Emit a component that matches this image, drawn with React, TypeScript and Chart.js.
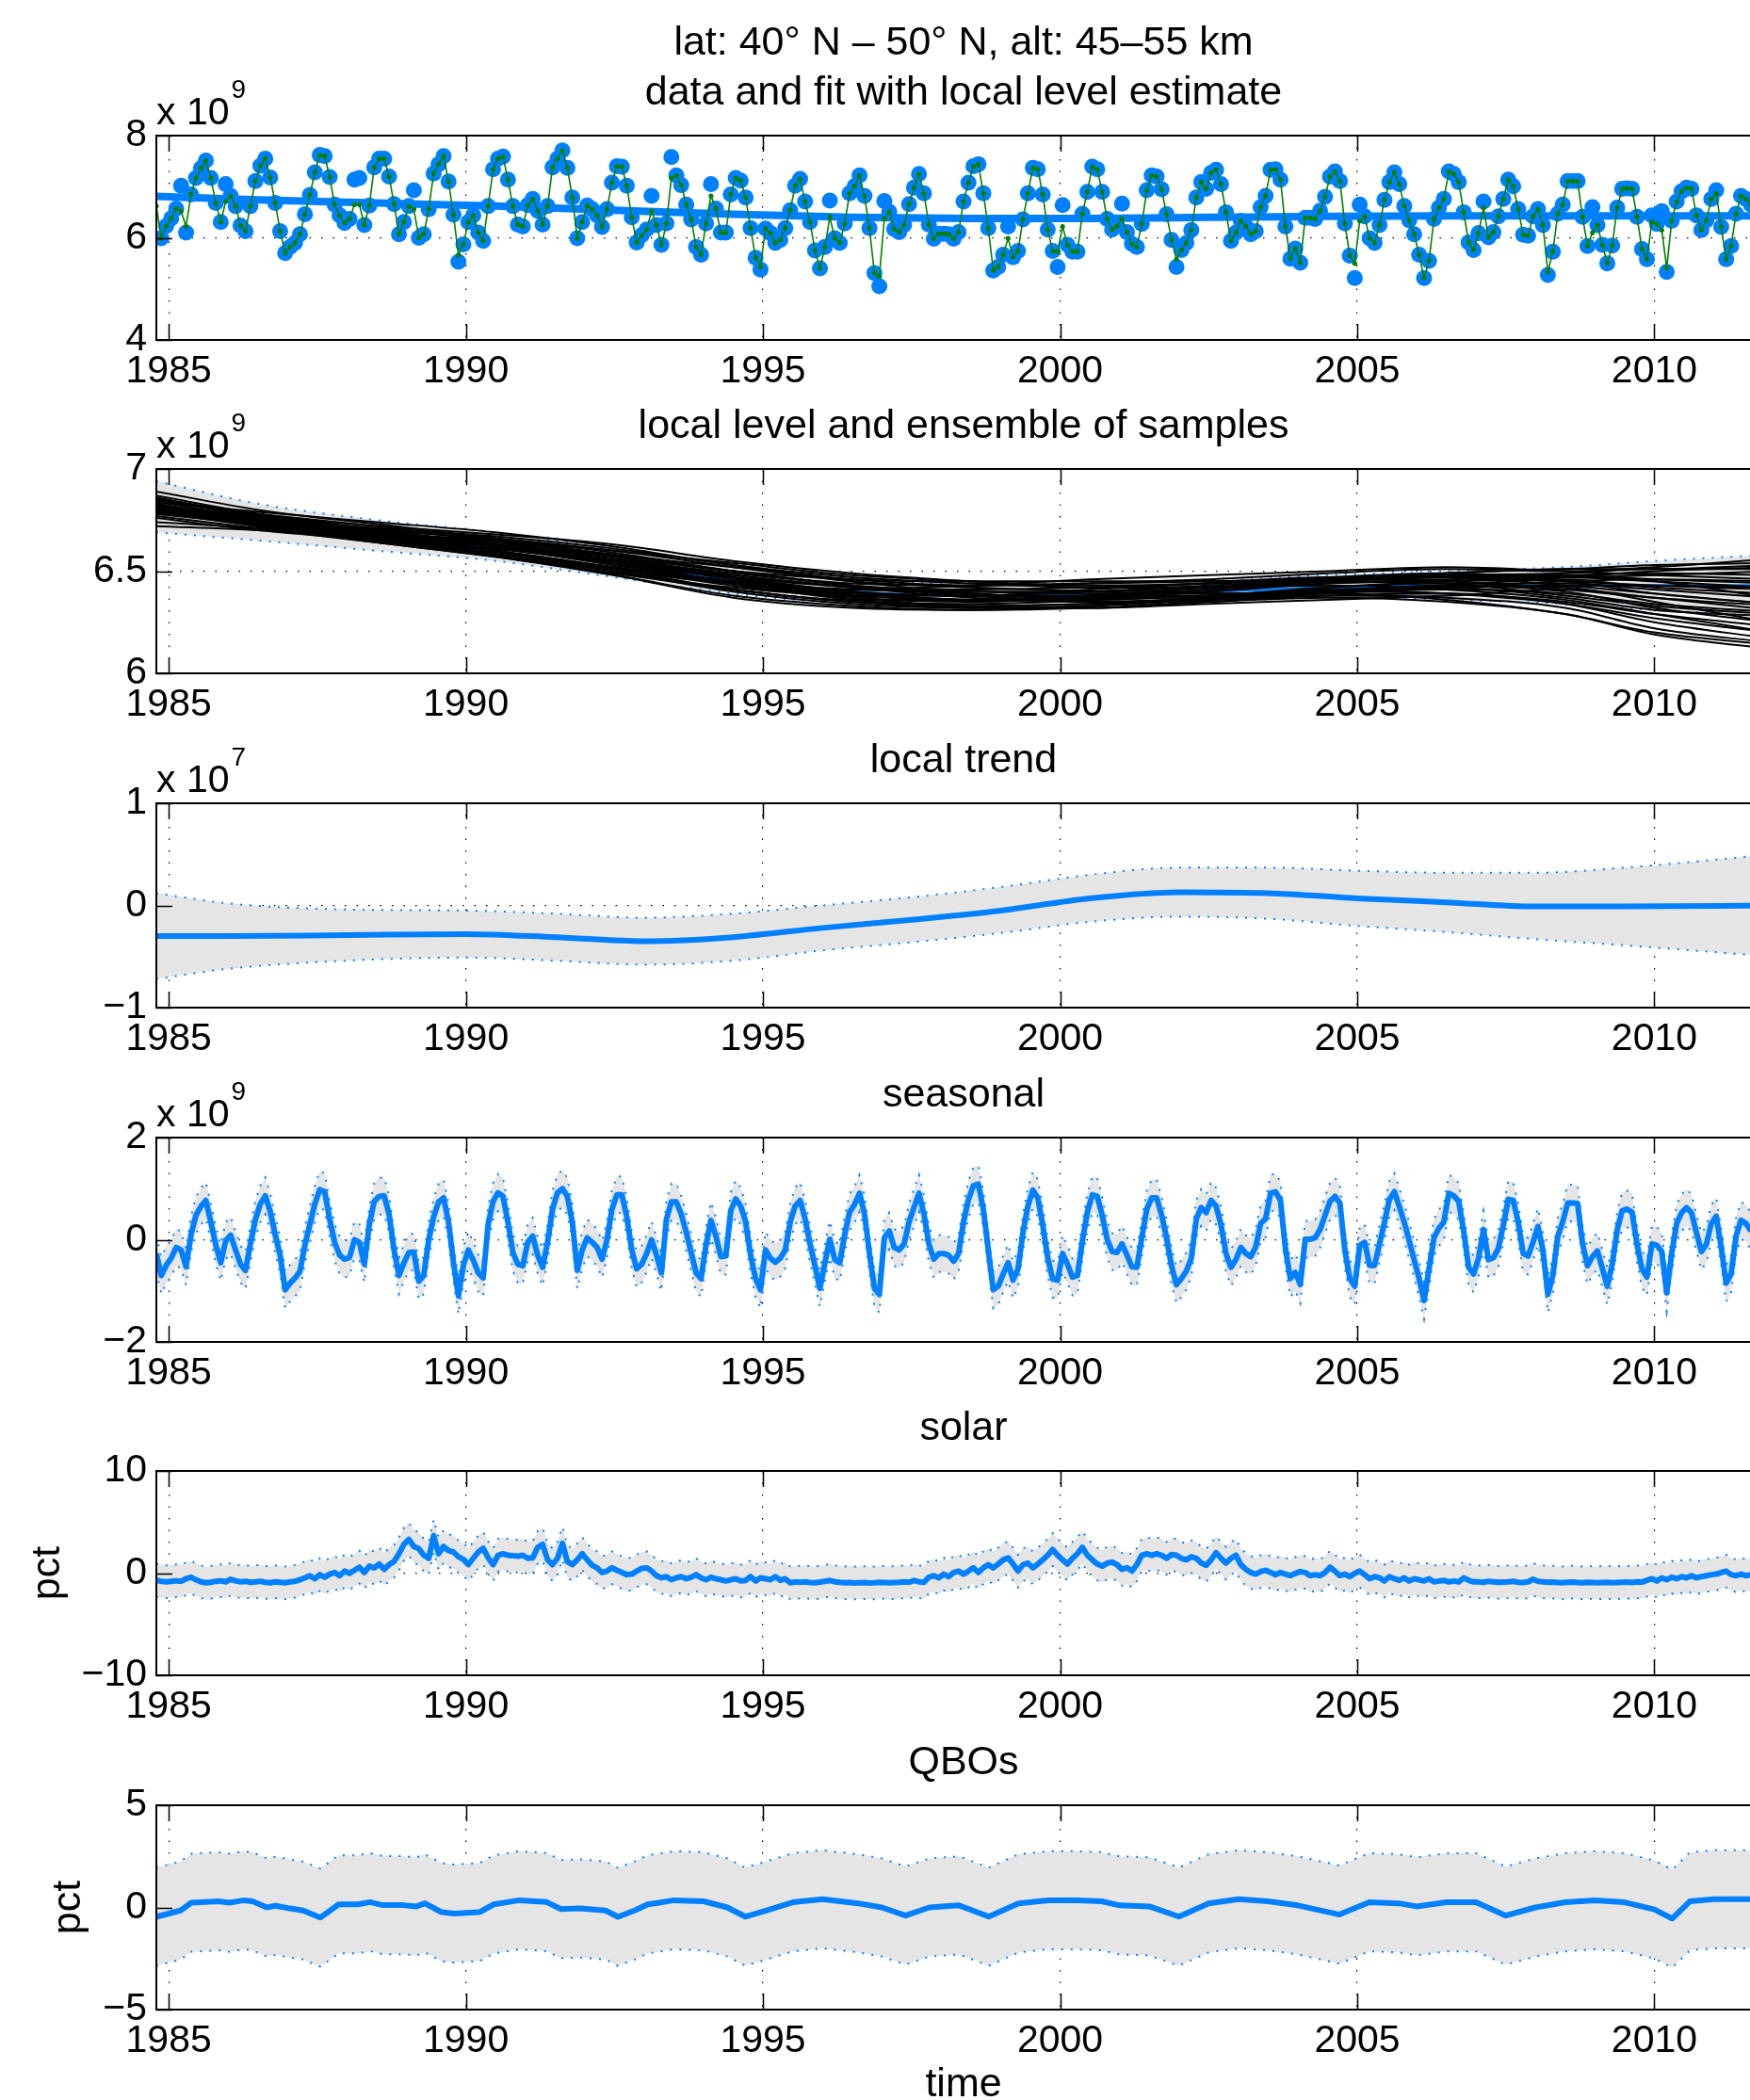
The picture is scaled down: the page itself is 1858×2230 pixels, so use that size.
import React, { useEffect, useRef } from 'react';
import { Chart, registerables } from 'chart.js';

Chart.register(...registerables);

// ---------------- time axis (monthly, Oct 1984 .. ) ----------------
const FIRST_MONTH = 1984 + 9.5 / 12;
const LAST_MONTH = 1984 + (9.5 + 326) / 12;
const monthCount = 323;
const monthTimes = Array.from({ length: monthCount }, (_, i) => FIRST_MONTH + i / 12);
const xTickStep = 5;

// ---------------- panel 1: data (x1e9) and fit ----------------
const obsVals: (number | null)[] = [
  null, 5.99, 6.23, 6.38, 6.57, 7.02, 6.10, 6.85, 7.17, 7.36,
  7.51, 7.17, 6.68, 6.31, 7.05, 6.82, 6.62, 6.24, 6.13, 6.62,
  7.11, 7.41, 7.55, 7.18, 6.68, 6.13, 5.70, 5.82, 5.90, 6.07,
  6.46, 6.84, 7.28, 7.62, 7.60, 7.19, 6.65, 6.44, 6.29, 6.37,
  7.14, 7.17, 6.25, 6.63, 7.38, 7.55, 7.55, 7.20, 6.66, 6.07,
  6.31, 6.62, 6.93, 6.00, 6.07, 6.56, 7.26, 7.44, 7.60, 7.10,
  6.45, 5.53, 5.87, 6.31, 6.44, 6.10, 5.94, 6.62, 7.34, 7.55,
  7.59, 7.14, 6.62, 6.26, 6.22, 6.64, 6.76, 6.53, 6.26, 6.62,
  7.38, 7.55, 7.71, 7.37, 6.79, 5.99, 6.31, 6.63, 6.56, 6.44,
  6.21, 6.56, 7.08, 7.40, 7.39, 7.02, 6.40, 5.91, 6.05, 6.16,
  6.82, 6.25, 5.86, 6.28, 7.58, 7.22, 7.03, 6.65, 6.36, 5.82,
  5.67, 6.28, 7.05, 6.57, 6.10, 6.10, 6.85, 7.17, 7.12, 6.79,
  6.19, 5.61, 5.38, 6.18, 6.09, 5.90, 5.96, 6.19, 6.54, 7.02,
  7.15, 6.71, 6.31, 5.75, 5.40, 5.82, 6.73, 5.99, 5.90, 6.28,
  6.87, 7.01, 7.22, 6.82, 6.19, 5.31, 5.05, 6.72, 6.51, 6.17,
  6.11, 6.25, 6.66, 6.98, 7.25, 6.87, 6.26, 5.98, 6.08, 6.08,
  6.07, 5.98, 6.11, 6.71, 7.08, 7.40, 7.44, 6.87, 6.19, 5.36,
  5.43, 5.67, 6.22, 5.62, 5.74, 6.36, 6.87, 7.37, 7.34, 6.85,
  6.16, 5.74, 5.43, 6.64, 5.86, 5.73, 5.73, 6.47, 6.90, 7.39,
  7.34, 6.90, 6.37, 6.16, 6.23, 6.67, 6.11, 5.88, 5.82, 6.27,
  6.93, 7.22, 7.20, 6.95, 6.46, 5.96, 5.43, 5.76, 5.90, 6.15,
  6.79, 7.09, 6.96, 7.27, 7.33, 7.05, 6.50, 5.94, 6.10, 6.33,
  6.23, 6.07, 6.13, 6.60, 6.82, 7.33, 7.34, 7.14, 6.22, 5.59,
  5.79, 5.51, 6.39, 6.39, 6.37, 6.53, 6.80, 7.20, 7.30, 7.11,
  6.28, 5.65, 5.21, 6.65, 6.42, 5.99, 5.90, 6.25, 6.74, 7.09,
  7.28, 7.05, 6.62, 6.34, 6.07, 5.67, 5.21, 5.55, 6.37, 6.59,
  6.76, 7.30, 7.25, 7.09, 6.50, 5.91, 5.76, 6.09, 6.71, 6.01,
  6.11, 6.42, 6.76, 7.14, 7.01, 6.56, 6.06, 6.04, 6.42, 6.56,
  6.25, 5.27, 5.73, 6.47, 6.65, 7.11, 7.11, 7.11, 6.41, 5.84,
  6.60, 6.25, 5.86, 5.50, 5.85, 6.59, 6.96, 6.97, 6.96, 6.41,
  5.78, 5.58, 6.44, 6.27, 6.52, 5.33, 6.33, 6.71, 6.91, 6.98,
  6.96, 6.44, 6.15, 6.34, 6.76, 6.93, 6.21, 5.58, 5.84, 6.47,
  6.82, 6.76, 6.65,
];

const fitVals: number[] = [
  6.62, 5.99, 6.23, 6.38, 6.57, 6.52, 6.22, 6.85, 7.17, 7.36,
  7.51, 7.17, 6.68, 6.31, 6.71, 6.82, 6.62, 6.24, 6.13, 6.62,
  7.11, 7.41, 7.55, 7.18, 6.68, 6.13, 5.70, 5.82, 5.90, 6.07,
  6.46, 6.84, 7.28, 7.62, 7.60, 7.19, 6.65, 6.44, 6.29, 6.37,
  6.65, 6.65, 6.25, 6.63, 7.38, 7.55, 7.55, 7.20, 6.66, 6.07,
  6.31, 6.62, 6.56, 6.00, 6.07, 6.56, 7.26, 7.44, 7.60, 7.10,
  6.45, 5.66, 5.87, 6.31, 6.44, 6.10, 5.94, 6.62, 7.34, 7.55,
  7.59, 7.14, 6.62, 6.26, 6.22, 6.64, 6.76, 6.53, 6.26, 6.62,
  7.38, 7.55, 7.71, 7.37, 6.79, 5.99, 6.31, 6.63, 6.56, 6.44,
  6.21, 6.56, 7.08, 7.40, 7.39, 7.02, 6.40, 5.91, 6.05, 6.16,
  6.52, 6.25, 5.86, 6.28, 7.17, 7.22, 7.03, 6.65, 6.36, 5.82,
  5.67, 6.28, 6.82, 6.57, 6.10, 6.10, 6.85, 7.17, 7.12, 6.79,
  6.19, 5.61, 5.43, 6.18, 6.09, 5.90, 5.96, 6.19, 6.54, 7.02,
  7.15, 6.71, 6.31, 5.75, 5.40, 5.82, 6.41, 5.99, 5.90, 6.28,
  6.87, 7.01, 7.22, 6.82, 6.19, 5.31, 5.24, 6.37, 6.51, 6.17,
  6.11, 6.25, 6.66, 6.98, 7.25, 6.87, 6.26, 5.98, 6.08, 6.08,
  6.07, 5.98, 6.11, 6.71, 7.08, 7.40, 7.44, 6.87, 6.19, 5.36,
  5.43, 5.67, 5.99, 5.62, 5.74, 6.36, 6.87, 7.37, 7.34, 6.85,
  6.16, 5.74, 5.73, 6.22, 5.86, 5.73, 5.73, 6.47, 6.90, 7.39,
  7.34, 6.90, 6.37, 6.16, 6.23, 6.37, 6.11, 5.88, 5.82, 6.27,
  6.93, 7.22, 7.20, 6.95, 6.46, 5.96, 5.58, 5.76, 5.90, 6.15,
  6.79, 7.09, 6.96, 7.27, 7.33, 7.05, 6.50, 5.94, 6.10, 6.33,
  6.23, 6.07, 6.13, 6.60, 6.82, 7.33, 7.34, 7.14, 6.22, 5.59,
  5.79, 5.51, 6.39, 6.39, 6.37, 6.53, 6.80, 7.20, 7.30, 7.11,
  6.28, 5.65, 5.50, 6.33, 6.42, 5.99, 5.90, 6.25, 6.74, 7.09,
  7.28, 7.05, 6.62, 6.34, 6.07, 5.67, 5.21, 5.55, 6.37, 6.59,
  6.76, 7.30, 7.25, 7.09, 6.50, 5.91, 5.76, 6.09, 6.59, 6.01,
  6.11, 6.42, 6.76, 7.14, 7.01, 6.56, 6.06, 6.04, 6.42, 6.56,
  6.25, 5.33, 5.73, 6.47, 6.65, 7.11, 7.11, 7.11, 6.41, 5.84,
  6.10, 6.25, 5.86, 5.50, 5.85, 6.59, 6.96, 6.97, 6.96, 6.41,
  5.78, 5.58, 6.31, 6.27, 6.15, 5.41, 6.33, 6.71, 6.91, 6.98,
  6.96, 6.44, 6.15, 6.34, 6.76, 6.87, 6.21, 5.58, 5.84, 6.47,
  6.82, 6.76, 6.65,
];

// ---------------- panel 2: local level (x1e9) ----------------
const levelTimes = [1984.79, 1986.5, 1988.5, 1990.5, 1992.5, 1994.5, 1996.5, 1998.5, 2000.5, 2002.5, 2004.5, 2006.5, 2008.5, 2010, 2011.96];
const levelMean = [6.81, 6.74, 6.68, 6.62, 6.54, 6.46, 6.40, 6.38, 6.38, 6.40, 6.42, 6.43, 6.43, 6.43, 6.43];
const levelUpper = [6.94, 6.83, 6.75, 6.69, 6.61, 6.53, 6.46, 6.44, 6.44, 6.46, 6.48, 6.50, 6.52, 6.55, 6.58];
const levelLower = [6.69, 6.65, 6.60, 6.55, 6.47, 6.39, 6.34, 6.32, 6.33, 6.35, 6.37, 6.36, 6.34, 6.31, 6.28];
const levelSamples: number[][] = [
  [6.89, 6.80, 6.73, 6.66, 6.58, 6.52, 6.46, 6.43, 6.44, 6.46, 6.49, 6.51, 6.50, 6.52, 6.56],
  [6.85, 6.77, 6.70, 6.62, 6.54, 6.44, 6.37, 6.33, 6.34, 6.36, 6.40, 6.43, 6.40, 6.32, 6.25],
  [6.83, 6.75, 6.69, 6.65, 6.60, 6.54, 6.48, 6.45, 6.43, 6.44, 6.47, 6.49, 6.47, 6.48, 6.50],
  [6.80, 6.72, 6.64, 6.57, 6.48, 6.38, 6.33, 6.31, 6.32, 6.35, 6.38, 6.37, 6.32, 6.22, 6.15],
  [6.78, 6.73, 6.68, 6.63, 6.56, 6.48, 6.42, 6.40, 6.39, 6.39, 6.40, 6.42, 6.43, 6.43, 6.42],
  [6.72, 6.70, 6.66, 6.60, 6.52, 6.44, 6.39, 6.38, 6.40, 6.43, 6.46, 6.49, 6.51, 6.51, 6.53],
  [6.84, 6.79, 6.74, 6.69, 6.62, 6.53, 6.47, 6.44, 6.42, 6.42, 6.43, 6.41, 6.36, 6.29, 6.20],
  [6.82, 6.73, 6.65, 6.58, 6.49, 6.41, 6.35, 6.34, 6.36, 6.40, 6.44, 6.46, 6.47, 6.45, 6.42],
  [6.79, 6.74, 6.69, 6.64, 6.58, 6.50, 6.43, 6.38, 6.35, 6.36, 6.38, 6.39, 6.34, 6.25, 6.17],
  [6.86, 6.77, 6.69, 6.60, 6.51, 6.44, 6.41, 6.43, 6.46, 6.48, 6.50, 6.52, 6.50, 6.48, 6.46],
  [6.81, 6.75, 6.69, 6.63, 6.57, 6.47, 6.38, 6.32, 6.32, 6.35, 6.37, 6.35, 6.29, 6.19, 6.12],
  [6.77, 6.71, 6.64, 6.57, 6.49, 6.42, 6.38, 6.38, 6.41, 6.44, 6.46, 6.47, 6.48, 6.49, 6.48],
  [6.84, 6.76, 6.70, 6.66, 6.59, 6.50, 6.43, 6.41, 6.42, 6.44, 6.46, 6.45, 6.41, 6.37, 6.33],
  [6.80, 6.75, 6.71, 6.67, 6.61, 6.53, 6.45, 6.39, 6.37, 6.37, 6.39, 6.42, 6.45, 6.46, 6.45],
  [6.83, 6.74, 6.66, 6.58, 6.48, 6.37, 6.32, 6.31, 6.33, 6.37, 6.42, 6.45, 6.47, 6.45, 6.37],
  [6.79, 6.72, 6.66, 6.61, 6.55, 6.48, 6.42, 6.37, 6.35, 6.37, 6.41, 6.39, 6.34, 6.27, 6.20],
  [6.82, 6.77, 6.72, 6.68, 6.63, 6.55, 6.49, 6.45, 6.42, 6.42, 6.45, 6.49, 6.51, 6.53, 6.54],
  [6.81, 6.72, 6.65, 6.58, 6.50, 6.41, 6.36, 6.36, 6.38, 6.42, 6.45, 6.44, 6.38, 6.33, 6.29],
  [6.85, 6.78, 6.70, 6.62, 6.53, 6.45, 6.41, 6.40, 6.40, 6.42, 6.46, 6.48, 6.45, 6.39, 6.34],
  [6.80, 6.76, 6.71, 6.65, 6.58, 6.50, 6.43, 6.38, 6.36, 6.38, 6.39, 6.36, 6.29, 6.20, 6.14],
  [6.83, 6.74, 6.66, 6.59, 6.51, 6.43, 6.37, 6.35, 6.37, 6.40, 6.44, 6.45, 6.46, 6.42, 6.39],
  [6.78, 6.74, 6.69, 6.64, 6.56, 6.49, 6.44, 6.43, 6.44, 6.45, 6.46, 6.48, 6.49, 6.51, 6.51],
  [6.82, 6.73, 6.66, 6.59, 6.50, 6.40, 6.34, 6.32, 6.33, 6.36, 6.40, 6.39, 6.35, 6.29, 6.23],
  [6.84, 6.78, 6.72, 6.65, 6.57, 6.50, 6.46, 6.45, 6.45, 6.45, 6.47, 6.47, 6.43, 6.39, 6.34],
  [6.76, 6.70, 6.65, 6.59, 6.52, 6.44, 6.38, 6.36, 6.38, 6.41, 6.45, 6.47, 6.45, 6.43, 6.41],
  [6.87, 6.78, 6.70, 6.62, 6.53, 6.45, 6.39, 6.36, 6.36, 6.38, 6.41, 6.42, 6.37, 6.31, 6.28],
  [6.80, 6.75, 6.70, 6.66, 6.60, 6.52, 6.45, 6.42, 6.40, 6.39, 6.40, 6.43, 6.47, 6.50, 6.52],
  [6.83, 6.75, 6.67, 6.60, 6.51, 6.41, 6.35, 6.32, 6.32, 6.34, 6.36, 6.38, 6.41, 6.37, 6.31],
  [6.79, 6.73, 6.67, 6.61, 6.55, 6.47, 6.40, 6.36, 6.37, 6.41, 6.45, 6.47, 6.48, 6.46, 6.44],
  [6.81, 6.76, 6.70, 6.63, 6.55, 6.46, 6.40, 6.38, 6.38, 6.38, 6.40, 6.43, 6.42, 6.35, 6.25],
  [6.86, 6.76, 6.68, 6.61, 6.54, 6.47, 6.42, 6.39, 6.37, 6.38, 6.42, 6.44, 6.44, 6.41, 6.37],
  [6.74, 6.71, 6.67, 6.62, 6.55, 6.44, 6.36, 6.33, 6.34, 6.37, 6.40, 6.41, 6.39, 6.34, 6.30],
];

// ---------------- panel 3: local trend (x1e7) ----------------
const trendTimes = [1984.79, 1986, 1988, 1990, 1991.5, 1993, 1994.5, 1996, 1997.5, 1999, 2000.5, 2002, 2003.5, 2005, 2006.5, 2008, 2009.5, 2011.96];
const trendVals = [-0.30, -0.30, -0.29, -0.28, -0.31, -0.35, -0.31, -0.22, -0.14, -0.05, 0.07, 0.13, 0.12, 0.07, 0.03, -0.01, -0.01, 0.0];
const trendUpper = [0.12, 0.02, -0.04, -0.05, -0.08, -0.12, -0.08, 0.0, 0.08, 0.18, 0.3, 0.37, 0.37, 0.34, 0.32, 0.32, 0.37, 0.5];
const trendLower = [-0.72, -0.62, -0.54, -0.51, -0.54, -0.58, -0.54, -0.44, -0.36, -0.27, -0.16, -0.11, -0.13, -0.2, -0.26, -0.33, -0.39, -0.5];

// ---------------- panel 4: seasonal (x1e9) ----------------
const seasonalVals = [
  -0.27, -0.70, -0.5, -0.36, -0.15, -0.2, -0.53, 0.1, 0.48, 0.65,
  0.77, 0.35, -0.1, -0.45, -0.02, 0.09, -0.2, -0.48, -0.6, -0.08,
  0.4, 0.7, 0.86, 0.55, 0.1, -0.3, -0.98, -0.85, -0.75, -0.62,
  -0.1, 0.3, 0.7, 0.98, 0.94, 0.4, -0.05, -0.3, -0.38, -0.35,
  0.0, -0.05, -0.48, 0.3, 0.75, 0.85, 0.86, 0.5, -0.2, -0.70,
  -0.45, -0.25, -0.24, -0.81, -0.7, 0.0, 0.45, 0.74, 0.82, 0.35,
  -0.45, -1.10, -0.5, -0.2, -0.4, -0.65, -0.75, 0.3, 0.75, 0.92,
  0.85, 0.35, -0.25, -0.48, -0.51, -0.05, 0.07, -0.3, -0.54, -0.05,
  0.6, 0.92, 1.0, 0.85, 0.35, -0.6, -0.2, 0.04, -0.05, -0.15,
  -0.38, 0.0, 0.6, 0.88, 0.88, 0.45, -0.2, -0.57, -0.48, -0.27,
  0.0, -0.3, -0.65, 0.4, 0.74, 0.74, 0.5, 0.15, -0.25, -0.65,
  -0.76, -0.1, 0.38, 0.07, -0.33, -0.32, 0.57, 0.8, 0.66, 0.35,
  -0.3, -0.76, -0.98, -0.2, -0.36, -0.44, -0.36, -0.2, 0.35, 0.66,
  0.77, 0.41, -0.08, -0.51, -0.95, -0.45, 0.01, -0.39, -0.45, 0.1,
  0.54, 0.69, 0.91, 0.51, -0.27, -0.95, -1.07, 0.04, 0.17, -0.15,
  -0.2, -0.08, 0.35, 0.63, 0.91, 0.51, -0.08, -0.38, -0.27, -0.27,
  -0.3, -0.42, -0.27, 0.35, 0.79, 1.06, 1.09, 0.6, -0.2, -0.98,
  -0.91, -0.67, -0.45, -0.79, -0.57, 0.14, 0.66, 0.97, 0.82, 0.29,
  -0.36, -0.77, -0.79, -0.27, -0.48, -0.73, -0.7, -0.02, 0.54, 0.88,
  0.85, 0.48, 0.01, -0.23, -0.25, -0.08, -0.3, -0.53, -0.54, 0.04,
  0.6, 0.82, 0.82, 0.48, 0.04, -0.51, -0.88, -0.76, -0.61, -0.36,
  0.41, 0.63, 0.53, 0.77, 0.66, 0.29, -0.27, -0.54, -0.39, -0.15,
  -0.27, -0.33, -0.14, 0.32, 0.41, 0.91, 0.94, 0.77, -0.17, -0.76,
  -0.64, -0.88, 0.01, 0.01, 0.04, 0.2, 0.48, 0.75, 0.85, 0.72,
  -0.2, -0.76, -0.91, -0.11, -0.05, -0.5, -0.5, -0.08, 0.34, 0.79,
  0.94, 0.65, 0.34, -0.02, -0.39, -0.76, -1.19, -0.57, 0.04, 0.23,
  0.35, 0.91, 0.86, 0.75, 0.17, -0.54, -0.67, -0.36, 0.2, -0.39,
  -0.35, -0.17, 0.29, 0.79, 0.77, 0.35, -0.27, -0.32, -0.05, 0.26,
  -0.2, -1.07, -0.7, 0.07, 0.35, 0.72, 0.72, 0.71, -0.08, -0.51,
  -0.33, -0.22, -0.56, -0.91, -0.48, 0.2, 0.57, 0.6, 0.54, -0.09,
  -0.57, -0.73, -0.08, -0.11, -0.23, -1.04, -0.27, 0.32, 0.53, 0.63,
  0.53, 0.14, -0.23, -0.09, 0.32, 0.46, -0.14, -0.85, -0.67, 0.07,
  0.38, 0.32, 0.17,
];
const seasonalHalfBand = 0.36;

// ---------------- panel 5: solar (pct) ----------------
const solarVals = [
  -0.7, -0.8, -0.85, -0.8, -0.75, -0.8, -0.55, -0.4, -0.65, -0.85,
  -0.95, -0.9, -0.8, -0.75, -0.85, -0.6, -0.75, -0.85, -0.8, -0.9,
  -0.85, -0.8, -0.9, -0.95, -0.85, -0.9, -0.95, -0.85, -0.8, -0.65,
  -0.46, -0.25, -0.55, -0.15, -0.4, -0.1, 0.06, -0.25, 0.2, -0.03,
  0.28, 0.58, 0.06, 0.68, 0.52, 0.89, 0.37, 0.83, 1.14, 1.9,
  2.83, 3.3, 2.6, 2.4, 1.75, 1.45, 3.66, 1.9, 2.6, 2.2,
  2.06, 1.6, 1.35, 0.83, 1.45, 2.06, 2.43, 1.5, 0.83, 1.75,
  1.9, 1.75, 1.7, 1.66, 1.75, 1.45, 1.5, 2.52, 2.83, 1.3,
  0.83, 1.45, 2.92, 1.14, 0.83, 1.3, 1.9, 1.3, 0.77, 0.52,
  0.06, 0.2, 0.52, 0.28, 0.06, -0.15, -0.1, 0.2, 0.46, 0.52,
  0.2, -0.25, -0.46, -0.34, -0.65, -0.46, -0.34, -0.55, -0.4, -0.15,
  -0.46, -0.65, -0.4, -0.55, -0.65, -0.77, -0.65, -0.55, -0.77, -0.71,
  -0.34, -0.77, -0.46, -0.55, -0.65, -0.34, -0.71, -0.55, -0.95, -0.86,
  -0.9, -0.85, -0.92, -0.95, -0.88, -0.8, -0.72, -0.85, -0.9, -0.95,
  -0.92, -0.96, -0.95, -0.93, -0.96, -0.95, -0.9, -0.92, -0.95, -0.93,
  -0.9, -0.85, -0.9, -0.72, -0.85, -0.9, -0.4, -0.25, -0.46, -0.1,
  -0.34, 0.06, 0.2, -0.1, 0.2, 0.52, 0.06, 0.52, 0.83, 0.52,
  0.89, 1.3, 1.5, 0.89, 0.2, 0.83, 0.98, 0.52, 0.89, 1.3,
  1.75, 2.3, 1.75, 1.3, 0.89, 1.45, 1.9, 2.52, 1.75, 1.3,
  0.89, 0.68, 0.98, 1.08, 0.83, 0.37, 0.52, 0.2, 0.83, 1.75,
  1.9, 1.75, 1.9, 1.75, 1.45, 1.82, 1.75, 1.45, 1.3, 1.6,
  1.45, 0.98, 0.77, 1.3, 2.0, 1.45, 0.98, 1.45, 1.75, 0.83,
  0.37, 0.06, -0.1, 0.15, 0.28, 0.06, -0.15, 0.06, -0.1, -0.25,
  -0.03, 0.15, 0.06, -0.25, -0.15, -0.25, 0.06, 0.58, 0.2, -0.25,
  -0.1, -0.34, -0.03, 0.2, -0.15, -0.55, -0.34, -0.46, -0.77, -0.34,
  -0.55, -0.71, -0.46, -0.77, -0.55, -0.65, -0.77, -0.55, -0.86, -0.77,
  -0.71, -0.86, -0.77, -0.86, -0.46, -0.71, -0.86, -0.85, -0.9, -0.8,
  -0.85, -0.9, -0.88, -0.85, -0.8, -0.9, -0.92, -0.85, -0.6, -0.8,
  -0.85, -0.9, -0.88, -0.92, -0.95, -0.9, -0.88, -0.92, -0.95, -0.9,
  -0.93, -0.95, -0.92, -0.9, -0.95, -0.93, -0.9, -0.88, -0.92, -0.85,
  -0.88, -0.71, -0.55, -0.77, -0.46, -0.65, -0.4, -0.55, -0.34, -0.46,
  -0.25, -0.46, -0.34, -0.25, -0.15, -0.1, 0.06, 0.2, -0.15, -0.25,
  -0.1, -0.25, -0.15,
];
const solarHalfBand = 1.6;

// ---------------- panel 6: QBOs (pct) ----------------
const qboTimes = [1984.79, 1985.2, 1985.38, 1985.84, 1986.02, 1986.27, 1986.41, 1986.65, 1986.8, 1987.04, 1987.26, 1987.55, 1987.86, 1988.18, 1988.39, 1988.6, 1988.95, 1989.17, 1989.31, 1989.59, 1989.8, 1990.23, 1990.47, 1990.9, 1991.36, 1991.6, 1991.92, 1992.35, 1992.56, 1992.84, 1993.06, 1993.25, 1993.5, 1994.0, 1994.4, 1994.7, 1995.0, 1995.5, 1996.0, 1996.6, 1997.0, 1997.4, 1997.8, 1998.3, 1998.8, 1999.3, 1999.8, 2000.3, 2000.7, 2001.0, 2001.5, 2002.0, 2002.5, 2003.0, 2003.5, 2004.0, 2004.7, 2005.2, 2005.7, 2006.0, 2006.5, 2007.0, 2007.5, 2008.0, 2008.5, 2009.0, 2009.5, 2010.0, 2010.3, 2010.6, 2011.0, 2011.96];
const qboVals = [-0.46, -0.15, 0.23, 0.3, 0.23, 0.35, 0.3, 0.0, 0.08, -0.05, -0.15, -0.5, 0.15, 0.15, 0.26, 0.11, 0.11, 0.05, 0.2, -0.23, -0.3, -0.23, 0.15, 0.35, 0.26, -0.08, -0.05, -0.15, -0.46, -0.15, 0.15, 0.23, 0.35, 0.3, 0.0, -0.45, -0.2, 0.25, 0.4, 0.2, 0.0, -0.4, 0.0, 0.1, -0.45, 0.2, 0.35, 0.35, 0.3, 0.1, 0.05, -0.45, 0.2, 0.4, 0.3, 0.1, -0.35, 0.25, 0.2, 0.05, 0.25, 0.25, -0.4, 0.0, 0.25, 0.35, 0.25, -0.1, -0.55, 0.3, 0.4, 0.4];
const qboHalfBand = 2.4;

// ---------------- styling / geometry ----------------
const FONT = '"Liberation Sans", Arial, Helvetica, sans-serif';
const BLUE = '#0080ff';
const GREY = '#e5e5e5';
const GREEN = '#008000';
const CANVAS_W = 1900;
const PLOT_LEFT = 166;
const PLOT_RIGHT = 1880;
const PLOT_H = 217;
const TOP_ROOM = 144;
const CANVAS_H = 457;
const PANEL_TOPS = [0, 354, 709, 1064, 1418, 1773];
const TICK_FONT = 41;
const LABEL_FONT = 43;

type Pt = { x: number; y: number | null };
const xy = (ts: number[], vs: (number | null)[]): Pt[] => vs.map((v, i) => ({ x: ts[i], y: v }));
const shifted = (ts: number[], vs: number[], d: number): Pt[] => vs.map((v, i) => ({ x: ts[i], y: v + d }));

const bandPair = (up: Pt[], lo: Pt[], smooth: boolean) => {
  const common = {
    borderColor: BLUE,
    borderWidth: 2,
    borderDash: [2, 8],
    pointRadius: 0,
    cubicInterpolationMode: smooth ? 'monotone' : 'default',
  };
  return [
    { ...common, data: up, fill: '+1', backgroundColor: GREY },
    { ...common, data: lo, fill: false },
  ];
};

const mainLine = (data: Pt[], width: number, smooth: boolean) => ({
  data,
  borderColor: BLUE,
  borderWidth: width,
  pointRadius: 0,
  fill: false,
  borderJoinStyle: 'round',
  cubicInterpolationMode: smooth ? 'monotone' : 'default',
});

interface PanelSpec {
  titles: string[];
  exp?: string;
  ylabel?: { text: string; x: number };
  xlabel?: string;
  ymin: number;
  ymax: number;
  ystep: number;
  datasets: any[];
}

const panels: PanelSpec[] = [
  {
    titles: ['lat: 40\u00b0 N \u2013 50\u00b0 N, alt: 45\u201355 km', 'data and fit with local level estimate'],
    exp: '9',
    ymin: 4, ymax: 8, ystep: 2,
    datasets: [
      { data: xy(monthTimes, fitVals), borderColor: GREEN, borderWidth: 1.6, pointRadius: 2.6, pointBackgroundColor: GREEN, pointBorderWidth: 0, fill: false },
      mainLine(xy(levelTimes, levelMean), 8, true),
      { data: xy(monthTimes, obsVals), showLine: false, pointRadius: 8.5, pointBackgroundColor: BLUE, pointBorderWidth: 0, borderColor: BLUE },
    ],
  },
  {
    titles: ['local level and ensemble of samples'],
    exp: '9',
    ymin: 6, ymax: 7, ystep: 0.5,
    datasets: [
      ...levelSamples.map((s) => ({ data: xy(levelTimes, s), borderColor: '#000', borderWidth: 2, pointRadius: 0, fill: false, cubicInterpolationMode: 'monotone' })),
      mainLine(xy(levelTimes, levelMean), 3, true),
      ...bandPair(xy(levelTimes, levelUpper), xy(levelTimes, levelLower), true),
    ],
  },
  {
    titles: ['local trend'],
    exp: '7',
    ymin: -1, ymax: 1, ystep: 1,
    datasets: [
      mainLine(xy(trendTimes, trendVals), 6, true),
      ...bandPair(xy(trendTimes, trendUpper), xy(trendTimes, trendLower), true),
    ],
  },
  {
    titles: ['seasonal'],
    exp: '9',
    ymin: -2, ymax: 2, ystep: 2,
    datasets: [
      mainLine(xy(monthTimes, seasonalVals), 6, false),
      ...bandPair(shifted(monthTimes, seasonalVals, seasonalHalfBand), shifted(monthTimes, seasonalVals, -seasonalHalfBand), false),
    ],
  },
  {
    titles: ['solar'],
    ylabel: { text: 'pct', x: 63 },
    ymin: -10, ymax: 10, ystep: 10,
    datasets: [
      mainLine(xy(monthTimes, solarVals), 6, false),
      ...bandPair(shifted(monthTimes, solarVals, solarHalfBand), shifted(monthTimes, solarVals, -solarHalfBand), false),
    ],
  },
  {
    titles: ['QBOs'],
    ylabel: { text: 'pct', x: 85 },
    xlabel: 'time',
    ymin: -5, ymax: 5, ystep: 5,
    datasets: [
      mainLine(xy(qboTimes, qboVals), 6, false),
      ...bandPair(shifted(qboTimes, qboVals, qboHalfBand), shifted(qboTimes, qboVals, -qboHalfBand), false),
    ],
  },
];

const fmtTick = (v: number | string) => {
  const n = Number(v);
  const r = Math.round(n * 100) / 100;
  return r < 0 ? '\u2212' + String(Math.abs(r)) : String(r);
};

const decorPlugin = (spec: PanelSpec) => ({
  id: 'matlabDecor',
  afterDatasetsDraw(chart: any) {
    const { ctx, chartArea: a, scales } = chart;
    const xs = scales.x;
    const ys = scales.y;
    ctx.save();
    ctx.strokeStyle = '#000';
    ctx.lineWidth = 1.5;
    ctx.beginPath();
    xs.ticks.forEach((t: any) => {
      const px = Math.round(xs.getPixelForValue(t.value)) + 0.5;
      ctx.moveTo(px, a.bottom);
      ctx.lineTo(px, a.bottom - 17);
      ctx.moveTo(px, a.top);
      ctx.lineTo(px, a.top + 17);
    });
    ys.ticks.forEach((t: any) => {
      const py = Math.round(ys.getPixelForValue(t.value)) + 0.5;
      ctx.moveTo(a.left, py);
      ctx.lineTo(a.left + 17, py);
      ctx.moveTo(a.right, py);
      ctx.lineTo(a.right - 17, py);
    });
    ctx.stroke();
    ctx.lineWidth = 2;
    ctx.strokeRect(a.left, a.top, a.right - a.left, a.bottom - a.top);
    ctx.restore();
  },
  afterDraw(chart: any) {
    const { ctx, chartArea: a } = chart;
    const cx = (a.left + a.right) / 2;
    ctx.save();
    ctx.fillStyle = '#000';
    ctx.textAlign = 'center';
    ctx.textBaseline = 'alphabetic';
    ctx.font = `${LABEL_FONT}px ${FONT}`;
    const n = spec.titles.length;
    spec.titles.forEach((t, i) => {
      ctx.fillText(t, cx, a.top - 33 - (n - 1 - i) * 53);
    });
    if (spec.exp) {
      ctx.textAlign = 'left';
      ctx.font = `${TICK_FONT}px ${FONT}`;
      const base = 'x 10';
      ctx.fillText(base, a.left, a.top - 12);
      const w = ctx.measureText(base).width;
      ctx.font = `28px ${FONT}`;
      ctx.fillText(spec.exp, a.left + w + 2, a.top - 40);
    }
    if (spec.ylabel) {
      ctx.save();
      ctx.font = `${LABEL_FONT}px ${FONT}`;
      ctx.textAlign = 'center';
      ctx.translate(spec.ylabel.x, (a.top + a.bottom) / 2);
      ctx.rotate(-Math.PI / 2);
      ctx.fillText(spec.ylabel.text, 0, 0);
      ctx.restore();
    }
    if (spec.xlabel) {
      ctx.font = `${LABEL_FONT}px ${FONT}`;
      ctx.textAlign = 'center';
      ctx.fillText(spec.xlabel, cx, a.bottom + 92);
    }
    ctx.restore();
  },
});

function buildConfig(spec: PanelSpec): any {
  const gridOpts = { color: '#000', lineWidth: 1.2, drawTicks: false };
  const borderOpts = { display: false, dash: [1.5, 11] };
  const tickFont = { family: FONT, size: TICK_FONT };
  return {
    type: 'line',
    data: { datasets: spec.datasets },
    options: {
      responsive: false,
      animation: false,
      events: [],
      devicePixelRatio: 1,
      layout: { padding: { left: 0, right: CANVAS_W - PLOT_RIGHT, top: TOP_ROOM, bottom: 0 } },
      plugins: {
        legend: { display: false },
        tooltip: { enabled: false },
        title: { display: false },
        filler: { drawTime: 'beforeDatasetsDraw' },
      },
      scales: {
        x: {
          type: 'linear',
          min: FIRST_MONTH,
          max: LAST_MONTH,
          afterFit: (s: any) => { s.height = CANVAS_H - TOP_ROOM - PLOT_H; },
          ticks: {
            stepSize: xTickStep,
            includeBounds: false,
            autoSkip: false,
            maxRotation: 0,
            padding: 9,
            font: tickFont,
            color: '#000',
            callback: (v: any) => String(Math.round(Number(v))),
          },
          grid: gridOpts,
          border: borderOpts,
        },
        y: {
          type: 'linear',
          min: spec.ymin,
          max: spec.ymax,
          afterFit: (s: any) => { s.width = PLOT_LEFT; },
          ticks: {
            stepSize: spec.ystep,
            padding: 10,
            font: tickFont,
            color: '#000',
            callback: (v: any) => fmtTick(v),
          },
          grid: gridOpts,
          border: borderOpts,
        },
      },
    },
    plugins: [decorPlugin(spec)],
  };
}

function Panel({ spec, top }: { spec: PanelSpec; top: number }) {
  const ref = useRef<HTMLCanvasElement | null>(null);
  useEffect(() => {
    if (!ref.current) return;
    const chart = new Chart(ref.current, buildConfig(spec));
    return () => chart.destroy();
  }, [spec]);
  return (
    <canvas
      ref={ref}
      width={CANVAS_W}
      height={CANVAS_H}
      style={{ position: 'absolute', left: 0, top, width: CANVAS_W, height: CANVAS_H }}
    />
  );
}

export default function App() {
  return (
    <div
      style={{
        position: 'absolute',
        left: 0,
        top: 0,
        width: 1858,
        height: 2230,
        overflow: 'hidden',
        background: '#fff',
      }}
    >
      {panels.map((p, i) => (
        <Panel key={i} spec={p} top={PANEL_TOPS[i]} />
      ))}
    </div>
  );
}
